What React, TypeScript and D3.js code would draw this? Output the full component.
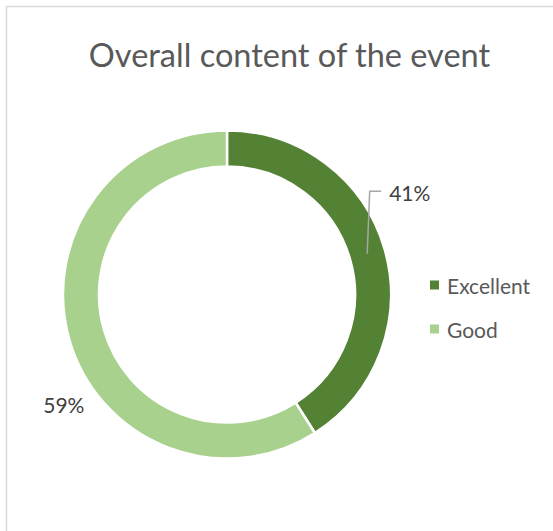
import React from 'react'
import * as d3 from 'd3'

const title = 'Overall content of the event'
const categories = ['Excellent', 'Good']
const values = [41, 59]
const colors = ['#548235', '#A9D18E']

const W = 553
const H = 531
const cx = 227
const cy = 294.5
const outerR = 164
const innerR = 128

// label offsets from the arc centroid (Excel "best fit" placement)
const labelOffsets = [
  { dx: 22, dy: -61.5 },
  { dx: -23, dy: 69 }
]

const App = () => {
  const pie = d3
    .pie<number>()
    .sort(null)
    .value(d => d)
  const arcs = pie(values)
  const arc = d3.arc<d3.PieArcDatum<number>>().innerRadius(innerR).outerRadius(outerR)
  const total = d3.sum(values)
  const font = 'Lato, "Open Sans", sans-serif'

  return (
    <svg width={W} height={H} style={{ position: 'absolute', left: 0, top: 0, background: '#fff' }}>
      <path d={`M6.5,${H} V6.5 H${W}`} fill="none" stroke="#d9d9d9" strokeWidth={1.5} />
      <text x={289.5} y={67} textAnchor="middle" fontFamily={font} fontSize={32.5} fill="#595959">
        {title}
      </text>
      <g transform={`translate(${cx},${cy})`}>
        {arcs.map((a, i) => (
          <path key={categories[i]} d={arc(a) || ''} fill={colors[i]} stroke="#fff" strokeWidth={2.5} />
        ))}
        {arcs.map((a, i) => {
          const [x, y] = arc.centroid(a)
          const o = labelOffsets[i]
          const lx = x + o.dx
          const ly = y + o.dy
          const pct = d3.format('.0%')(values[i] / total)
          return (
            <g key={'lbl' + i}>
              {i === 0 && (
                <path
                  d={`M${x},${y} L${x + 2.5},${ly - 1} H${x + 14}`}
                  fill="none"
                  stroke="#a6a6a6"
                  strokeWidth={1.5}
                />
              )}
              <text
                x={lx}
                y={ly}
                textAnchor={i === 0 ? 'start' : 'middle'}
                dominantBaseline="central"
                fontFamily={font}
                fontSize={21}
                fill="#404040"
              >
                {pct}
              </text>
            </g>
          )
        })}
      </g>
      <g transform="translate(430,0)">
        {categories.map((c, i) => (
          <g key={c} transform={`translate(0,${285 + i * 44})`}>
            <rect x={0} y={-4.5} width={9} height={9} fill={colors[i]} />
            <text x={17} y={0} dominantBaseline="central" fontFamily={font} fontSize={21} fill="#595959">
              {c}
            </text>
          </g>
        ))}
      </g>
    </svg>
  )
}

export default App
